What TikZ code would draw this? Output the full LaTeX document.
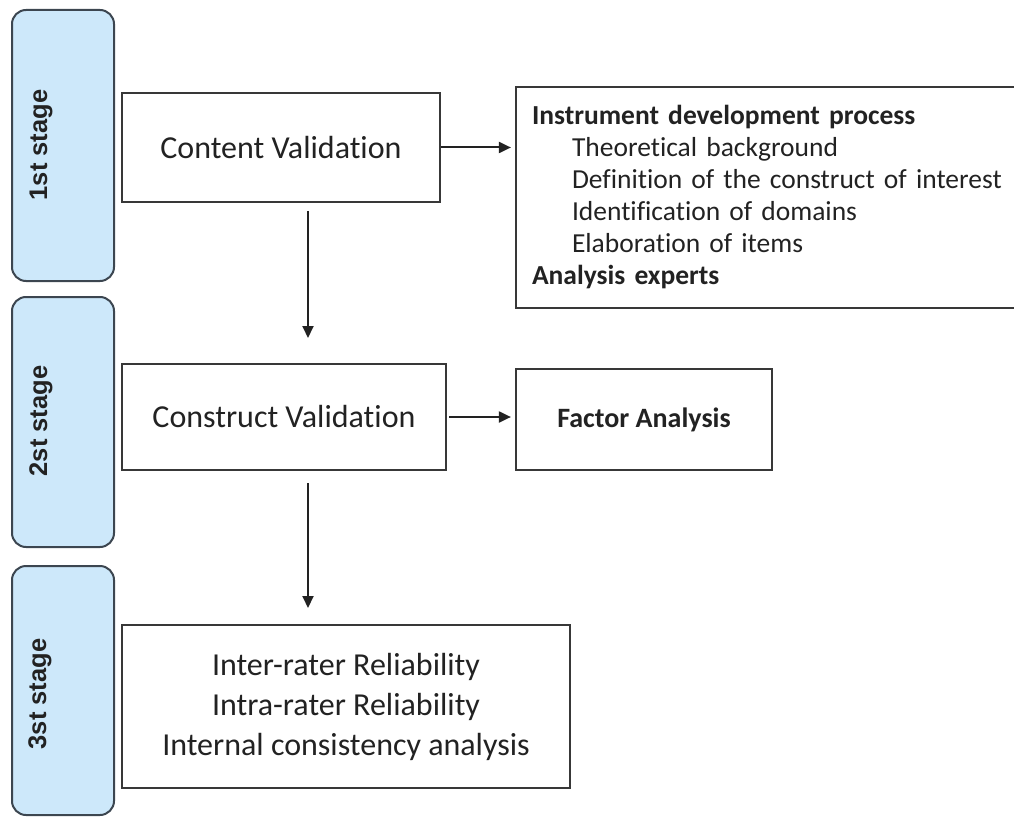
\documentclass[tikz,border=0pt]{standalone}
\usepackage{fontspec}
\setmainfont[Ligatures=NoCommon]{Carlito}
\newfontfamily\stagefont{Liberation Sans}
\usetikzlibrary{arrows.meta}
\definecolor{Ink}{HTML}{222222}
\definecolor{StageFill}{HTML}{CDE8FA}
\definecolor{StageLine}{HTML}{3C4650}

\begin{document}
\begin{tikzpicture}[x=1pt,y=-1pt,
  box/.style={draw=Ink!90,line width=2.2pt,inner sep=0pt,text=Ink,align=center,font=\fontsize{32}{40}\selectfont},
  stagebox/.style={draw=StageLine,fill=StageFill,line width=2pt,rounded corners=14pt,minimum width=102pt},
  stagetext/.style={rotate=90,font=\stagefont\bfseries\fontsize{25.5}{28}\selectfont,text=Ink},
  flow/.style={draw=Ink,line width=2pt,-{Triangle[length=12pt,width=11pt]}}]
\useasboundingbox (0,0) rectangle (1014,818);
% stage bars on the left
\node[stagebox,minimum height=271pt] (s1) at (63,145.5) {};
\node[stagebox,minimum height=250pt] (s2) at (63,422) {};
\node[stagebox,minimum height=249pt] (s3) at (63,690.5) {};
\node[stagetext] (s1lab) at (41,145) {1st stage};
\node[stagetext] (s2lab) at (41,421) {2st stage};
\node[stagetext] (s3lab) at (40,694) {3st stage};
% main column
\node[box,minimum width=318pt,minimum height=109pt] (cv) at (281,147.5) {Content Validation};
\node[box,minimum width=324pt,minimum height=106pt] (kv) at (284,417) {Construct Validation};
\node[box,minimum width=448pt,minimum height=163pt] (rel) at (346,706.5)
  {Inter-rater Reliability\\Intra-rater Reliability\\Internal consistency analysis};
% side boxes
\node[box,minimum width=514pt,minimum height=221pt,inner xsep=16pt,text width=482pt,align=left,
  font=\fontsize{27.5}{32}\selectfont] (idp) at (773,197.5)
  {\textbf{Instrument development process}\\
   \hspace*{40pt}Theoretical background\\
   \hspace*{40pt}Definition of the construct of interest\\
   \hspace*{40pt}Identification of domains\\
   \hspace*{40pt}Elaboration of items\\
   \textbf{Analysis experts}};
\node[box,minimum width=256pt,minimum height=101pt,font=\bfseries\fontsize{28}{34}\selectfont] (fa) at (644,419.5) {Factor Analysis};
% arrows
\coordinate (d1a) at (308,211);
\coordinate (d1b) at (308,338);
\coordinate (d2a) at (308,483);
\coordinate (d2b) at (308,608);
\draw[flow] (d1a) -- (d1b);
\draw[flow] (d2a) -- (d2b);
\draw[flow,shorten >=4pt] (cv.east) -- (cv.east -| idp.west);
\draw[flow,shorten <=2pt,shorten >=4pt] (kv.east) -- (kv.east -| fa.west);
\end{tikzpicture}
\end{document}
